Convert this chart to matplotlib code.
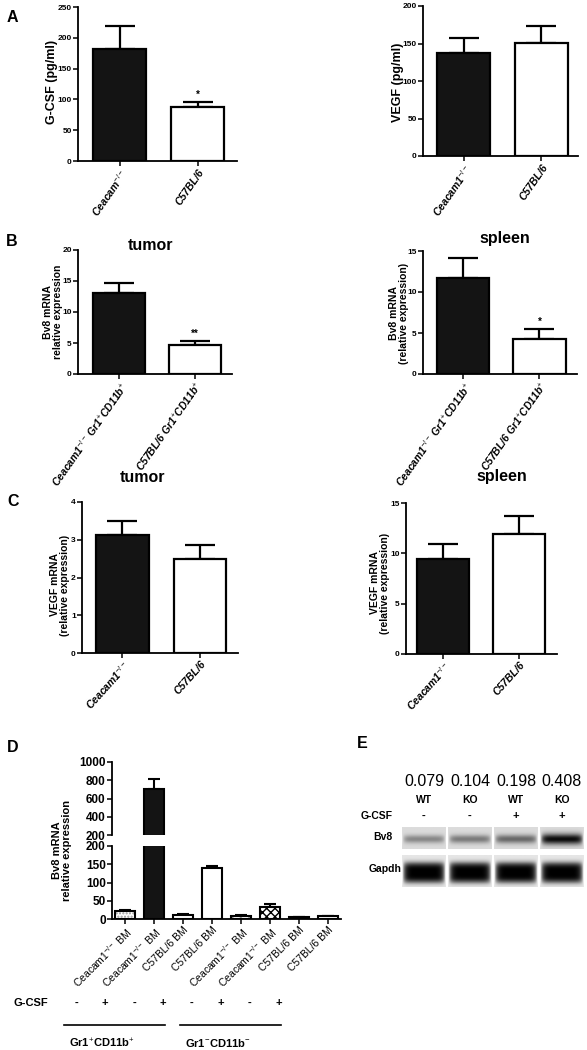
import numpy as np
import matplotlib
matplotlib.use('Agg')
import matplotlib.pyplot as plt

plt.rcParams['font.family'] = ['Liberation Sans', 'DejaVu Sans']
plt.rcParams['mathtext.fontset'] = 'custom'
plt.rcParams['mathtext.rm'] = 'Liberation Sans'
plt.rcParams['mathtext.it'] = 'Liberation Sans:italic'
plt.rcParams['mathtext.bf'] = 'Liberation Sans:bold'

# ---- data ----
strains = ['Ceacam1$^{-/-}$', 'C57BL/6']
strains_a = ['Ceacam$^{-/-}$', 'C57BL/6']
strains_b = ['Ceacam1$^{-/-}$ Gr1$^{+}$CD11b$^{+}$', 'C57BL/6 Gr1$^{+}$CD11b$^{+}$']

gcsf = [182, 87]
gcsf_err = [37, 9]
gcsf_sig = ['', '*']

vegf = [137, 151]
vegf_err = [21, 23]

bv8_tumor = [13.0, 4.6]
bv8_tumor_err = [1.7, 0.8]
bv8_tumor_sig = ['', '**']

bv8_spleen = [11.7, 4.3]
bv8_spleen_err = [2.4, 1.2]
bv8_spleen_sig = ['', '*']

vegf_tumor = [3.12, 2.5]
vegf_tumor_err = [0.38, 0.37]

vegf_spleen = [9.4, 11.9]
vegf_spleen_err = [1.5, 1.8]

bm_labels = ['Ceacam1$^{-/-}$ BM', 'Ceacam1$^{-/-}$ BM', 'C57BL/6 BM', 'C57BL/6 BM',
             'Ceacam1$^{-/-}$ BM', 'Ceacam1$^{-/-}$ BM', 'C57BL/6 BM', 'C57BL/6 BM']
bv8_bm = [22, 704, 12, 140, 8, 33, 5, 7]
bv8_bm_err = [4, 110, 3, 6, 2, 8, 1, 2]
bm_gcsf = ['-', '+', '-', '+', '-', '+', '-', '+']
bm_groups = [('Gr1$^{+}$CD11b$^{+}$', 0, 3), ('Gr1$^{-}$CD11b$^{-}$', 4, 7)]

wb_ratio = ['0.079', '0.104', '0.198', '0.408']
wb_strain = ['WT', 'KO', 'WT', 'KO']
wb_gcsf = ['-', '-', '+', '+']
wb_bv8 = [0.33, 0.38, 0.45, 0.82]
wb_gapdh = [0.9, 0.9, 0.9, 0.9]

# ---- layout helpers (pixel coords, origin top-left) ----
W, H = 587, 1050
fig = plt.figure(figsize=(W / 100, H / 100), dpi=100)


def add_ax(x0, y0, x1, y1):
    return fig.add_axes([x0 / W, 1 - y1 / H, (x1 - x0) / W, (y1 - y0) / H])


def ftext(x, y, s, **kw):
    return fig.text(x / W, 1 - y / H, s, **kw)


def style_ax(ax, ysize=6):
    for s in ['top', 'right']:
        ax.spines[s].set_visible(False)
    for s in ['left', 'bottom']:
        ax.spines[s].set_linewidth(1.3)
    ax.tick_params(direction='out', length=3.5, width=1.1, pad=1)
    for lab in ax.get_yticklabels():
        lab.set_fontweight('bold')
        lab.set_fontsize(ysize)


def two_bar(ax, vals, errs, labels, ymax, ystep, xlim, rot, sig=None):
    x = np.arange(len(vals))
    ax.bar(x, vals, width=0.68, color=['#141414', 'white'], edgecolor='black',
           linewidth=1.6, zorder=2)
    ax.errorbar(x, vals, yerr=[np.zeros(len(errs)), errs], fmt='none', ecolor='black',
                elinewidth=1.6, capsize=11, capthick=1.6, zorder=1)
    ax.set_xlim(xlim)
    ax.set_ylim(0, ymax)
    ax.set_yticks(np.arange(0, ymax + ystep / 2, ystep))
    ax.set_xticks(x)
    ax.set_xticklabels(labels, rotation=rot, ha='right', rotation_mode='anchor',
                       fontsize=7.5, fontweight='bold', fontstyle='italic')
    style_ax(ax)
    if sig:
        for i, s in enumerate(sig):
            if s:
                ax.text(x[i], vals[i] + errs[i] + ymax * 0.015, s, ha='center',
                        va='bottom', fontsize=7, fontweight='bold')


# ---- panel A ----
ax = add_ax(78, 7, 237, 161)
two_bar(ax, gcsf, gcsf_err, strains_a, 250, 50, (-0.53, 1.5), 55, gcsf_sig)
ftext(52, 82, 'G-CSF (pg/ml)', rotation=90, ha='center', va='center',
      fontsize=9, fontweight='bold')

ax = add_ax(423, 6, 578, 156)
two_bar(ax, vegf, vegf_err, strains, 200, 50, (-0.52, 1.47), 55)
ftext(398, 82, 'VEGF (pg/ml)', rotation=90, ha='center', va='center',
      fontsize=9, fontweight='bold')

# ---- panel B ----
ax = add_ax(78, 250, 232, 374)
two_bar(ax, bv8_tumor, bv8_tumor_err, strains_b, 20, 5, (-0.54, 1.49), 55, bv8_tumor_sig)
ftext(53, 312, 'Bv8 mRNA\nrelative expression', rotation=90, ha='center', va='center',
      fontsize=7.5, fontweight='bold', linespacing=1.0)
ftext(151, 246, 'tumor', ha='center', va='center', fontsize=11.5, fontweight='bold')

ax = add_ax(423, 251, 577, 374)
two_bar(ax, bv8_spleen, bv8_spleen_err, strains_b, 15, 5, (-0.52, 1.49), 55, bv8_spleen_sig)
ftext(399, 313, 'Bv8 mRNA\n(relative expression)', rotation=90, ha='center', va='center',
      fontsize=7.5, fontweight='bold', linespacing=1.0)
ftext(505, 239, 'spleen', ha='center', va='center', fontsize=11.5, fontweight='bold')

# ---- panel C ----
ax = add_ax(82, 502, 238, 653)
two_bar(ax, vegf_tumor, vegf_tumor_err, strains, 4, 1, (-0.52, 1.49), 48)
ftext(60, 585, 'VEGF mRNA\n(relative expression)', rotation=90, ha='center', va='center',
      fontsize=7.5, fontweight='bold', linespacing=1.0)
ftext(143, 478, 'tumor', ha='center', va='center', fontsize=11.5, fontweight='bold')

ax = add_ax(406, 503, 557, 654)
two_bar(ax, vegf_spleen, vegf_spleen_err, strains, 15, 5, (-0.49, 1.5), 48)
ftext(380, 583, 'VEGF mRNA\n(relative expression)', rotation=90, ha='center', va='center',
      fontsize=7.5, fontweight='bold', linespacing=1.0)
ftext(502, 476, 'spleen', ha='center', va='center', fontsize=11.5, fontweight='bold')

# ---- panel D (broken y axis) ----
bm_face = ['white', '#141414', 'white', 'white', 'white', 'white', 'white', 'white']
bm_hatch = ['.....', None, None, None, '////', 'xxxx', None, None]
bm_hcol = ['#999999', '#141414', 'white', 'white', '#999999', 'black', 'white', 'white']
xd = np.arange(len(bv8_bm))
xlim_d = (-0.45, 7.45)

ax_top = add_ax(112, 762, 341, 835)
ax_bot = add_ax(112, 846, 341, 919)
for a, (lo, hi, step) in zip([ax_top, ax_bot], [(200, 1000, 200), (0, 200, 50)]):
    a.bar(xd, bv8_bm, width=0.69, color=bm_face, edgecolor=bm_hcol, hatch=bm_hatch,
          linewidth=0, zorder=2)
    a.bar(xd, bv8_bm, width=0.69, fill=False, edgecolor='black', linewidth=1.5, zorder=3)
    a.errorbar(xd, bv8_bm, yerr=[np.zeros(len(xd)), bv8_bm_err], fmt='none', ecolor='black',
               elinewidth=1.5, capsize=4.5, capthick=1.5, zorder=1)
    a.set_ylim(lo, hi)
    a.set_yticks(np.arange(lo, hi + 1, step))
    a.set_xlim(xlim_d)
    style_ax(a, ysize=8.5)
ax_top.spines['bottom'].set_visible(False)
ax_top.set_xticks([])
ax_bot.set_xticks(xd)
ax_bot.set_xticklabels(bm_labels, rotation=45, ha='right', rotation_mode='anchor', fontsize=7.5)
ftext(62, 850, 'Bv8 mRNA\nrelative expression', rotation=90, ha='center', va='center',
      fontsize=8, fontweight='bold', linespacing=1.0)

ax_ann = add_ax(63, 990, 292, 1050)
ax_ann.set_xlim(xlim_d)
ax_ann.set_ylim(1050, 990)
ax_ann.axis('off')
for i, s in enumerate(bm_gcsf):
    ax_ann.text(i, 1003, s, ha='center', va='center', fontsize=8, fontweight='bold')
for name, g0, g1 in bm_groups:
    ax_ann.plot([g0 - 0.43, g1 + 0.08], [1025, 1025], color='black', lw=1.2, clip_on=False)
    ax_ann.text((g0 + g1) / 2 - 0.6, 1043, name, ha='center', va='center',
                fontsize=8, fontweight='bold')
ftext(31, 1003, 'G-CSF', ha='center', va='center', fontsize=8, fontweight='bold')

# ---- panel E (western blot) ----
ax_e = add_ax(401, 770, 585, 890)


def band(strength, bg, sy, power, ny=40, nx=40):
    yy = np.linspace(0, 1, ny)[:, None]
    xx = np.linspace(-1, 1, nx)[None, :]
    v = np.exp(-np.abs((yy - 0.55) / sy) ** power)
    h = np.clip(1 - np.abs(xx) ** 8, 0, 1)
    return bg - strength * v * h


for i in range(len(wb_ratio)):
    ax_e.text(i, 782, wb_ratio[i], ha='center', va='center', fontsize=11.5)
    ax_e.text(i, 800, wb_strain[i], ha='center', va='center', fontsize=7.5, fontweight='bold')
    ax_e.text(i, 816, wb_gcsf[i], ha='center', va='center', fontsize=8, fontweight='bold')
    ax_e.imshow(band(wb_bv8[i], 0.86, 0.15 + 0.12 * wb_bv8[i], 2), cmap='gray', vmin=0, vmax=1,
                extent=(i - 0.47, i + 0.47, 849, 827), aspect='auto', interpolation='bilinear')
    ax_e.imshow(band(wb_gapdh[i], 0.9, 0.33, 4), cmap='gray', vmin=0, vmax=1,
                extent=(i - 0.47, i + 0.47, 887, 855), aspect='auto', interpolation='bilinear')
ax_e.set_xlim(-0.5, 3.5)
ax_e.set_ylim(890, 770)
ax_e.axis('off')
ftext(377, 816, 'G-CSF', ha='center', va='center', fontsize=7.5, fontweight='bold')
ftext(383, 837, 'Bv8', ha='center', va='center', fontsize=7.5, fontweight='bold')
ftext(385, 869, 'Gapdh', ha='center', va='center', fontsize=7.5, fontweight='bold')

# ---- panel letters ----
for letter, x, y in [('A', 12, 18), ('B', 12, 242), ('C', 13, 502), ('D', 13, 748), ('E', 362, 743)]:
    ftext(x, y, letter, ha='center', va='center', fontsize=11.5, fontweight='bold')

fig.savefig('out.png', dpi=100, facecolor='white')
